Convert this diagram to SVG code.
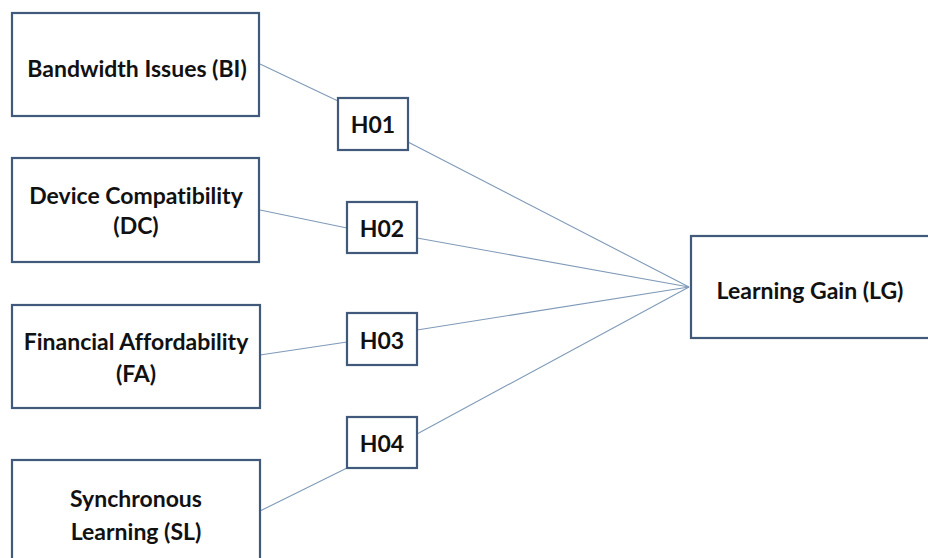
<svg xmlns="http://www.w3.org/2000/svg" width="928" height="558" viewBox="0 0 928 558">
<style>
.box{fill:#ffffff;stroke:#41597a;stroke-width:2.2}
.t{font-family:Lato,"Open Sans",sans-serif;font-weight:bold;font-size:23px;fill:#111;text-anchor:middle;font-variant-ligatures:none}
.c{stroke:#7f9ab8;stroke-width:1.1;fill:none}
</style>
<rect width="928" height="558" fill="#ffffff"/>
<g id="connectors">
<line class="c" x1="260" y1="64" x2="338" y2="101"/>
<line class="c" x1="260" y1="210" x2="347" y2="228"/>
<line class="c" x1="260" y1="355" x2="347" y2="342"/>
<line class="c" x1="260" y1="511" x2="347" y2="468"/>
<line class="c" x1="408" y1="142" x2="689" y2="287"/>
<line class="c" x1="417" y1="238" x2="689" y2="287"/>
<line class="c" x1="417" y1="330" x2="689" y2="287"/>
<line class="c" x1="417" y1="434" x2="689" y2="287"/>
</g>
<g id="BI"><rect class="box" x="12" y="13" width="247" height="103"/><text class="t" x="137" y="77">Bandwidth Issues (BI)</text></g>
<g id="DC"><rect class="box" x="12" y="158" width="247" height="104"/><text class="t" x="136" y="204">Device Compatibility</text><text class="t" x="136" y="234">(DC)</text></g>
<g id="FA"><rect class="box" x="12" y="305" width="248" height="103"/><text class="t" x="136" y="350">Financial Affordability</text><text class="t" x="136" y="382">(FA)</text></g>
<g id="SL"><rect class="box" x="12" y="460" width="248" height="110"/><text class="t" x="136" y="507">Synchronous</text><text class="t" x="136" y="540">Learning (SL)</text></g>
<g id="H01"><rect class="box" x="338" y="98" width="70" height="52"/><text class="t" x="373" y="133">H01</text></g>
<g id="H02"><rect class="box" x="347" y="202" width="70" height="51"/><text class="t" x="382" y="237">H02</text></g>
<g id="H03"><rect class="box" x="347" y="313" width="70" height="52"/><text class="t" x="382" y="349">H03</text></g>
<g id="H04"><rect class="box" x="347" y="417" width="70" height="51"/><text class="t" x="382" y="452">H04</text></g>
<g id="LG"><rect class="box" x="691" y="236" width="245" height="102"/><text class="t" x="810" y="299">Learning Gain (LG)</text></g>
</svg>
